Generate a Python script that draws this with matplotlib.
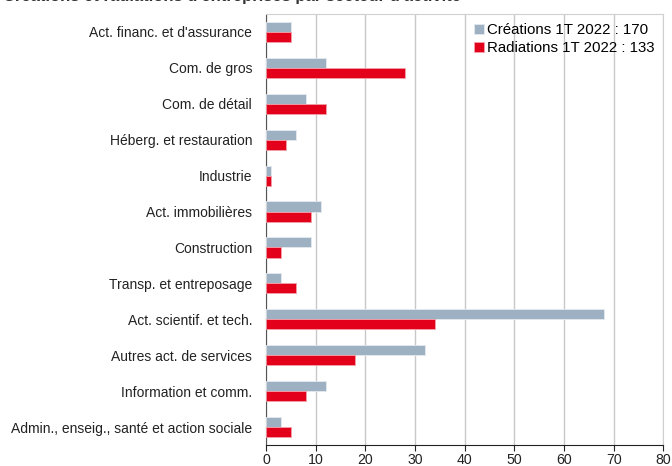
import numpy as np
import matplotlib.pyplot as plt

plt.rcParams['font.family'] = ['Liberation Sans', 'DejaVu Sans']

secteurs = ["Act. financ. et d'assurance", "Com. de gros", "Com. de détail",
            "Héberg. et restauration", "Industrie", "Act. immobilières",
            "Construction", "Transp. et entreposage", "Act. scientif. et tech.",
            "Autres act. de services", "Information et comm.",
            "Admin., enseig., santé et action sociale"]
creations = [5, 12, 8, 6, 1, 11, 9, 3, 68, 32, 12, 3]
radiations = [5, 28, 12, 4, 1, 9, 3, 6, 34, 18, 8, 5]
xticks = [0, 10, 20, 30, 40, 50, 60, 70, 80]

gris = '#9eb1c2'
rouge = '#e2001a'

fig = plt.figure(figsize=(6.72, 4.66), dpi=100)
ax = fig.add_axes([0.396, 0.045, 0.591, 0.925])

y = np.arange(len(secteurs))
h = 0.28
ax.barh(y - h / 2, creations, height=h, color=gris, edgecolor='#e4e9ee',
        linewidth=0.6, label='Créations 1T 2022 : 170', zorder=3)
ax.barh(y + h / 2, radiations, height=h, color=rouge, edgecolor='#f2a0a8',
        linewidth=0.6, label='Radiations 1T 2022 : 133', zorder=3)

ax.set_ylim(len(secteurs) - 0.5, -0.5)
ax.set_yticks(y)
ax.set_yticklabels(secteurs, fontsize=10, color='#222222')
ax.tick_params(axis='y', length=0, pad=10)

ax.set_xlim(0, 80)
ax.set_xticks(xticks)
ax.tick_params(axis='x', length=4, width=0.8, labelsize=10.2, pad=2,
               colors='#222222', direction='out')
ax.grid(axis='x', color='#c8c8c8', linewidth=1.0, zorder=0)

for s in ['top', 'right']:
    ax.spines[s].set_color('#d0d0d0')
ax.spines['left'].set_color('#555555')
ax.spines['left'].set_linewidth(0.8)
ax.spines['bottom'].set_color('#222222')
ax.spines['bottom'].set_linewidth(0.8)

leg = ax.legend(loc='upper right', frameon=False, fontsize=10.8,
                handlelength=0.65, handleheight=0.65, handletextpad=0.2,
                labelspacing=0.3, borderaxespad=0.2)

# titre coupé en haut, comme sur l'original
fig.text(0.005, 0.998, "Créations et radiations d'entreprises par secteur d'activité",
         fontsize=12, fontweight='bold', color='#333333', va='baseline')

fig.savefig('out.png', dpi=100)
